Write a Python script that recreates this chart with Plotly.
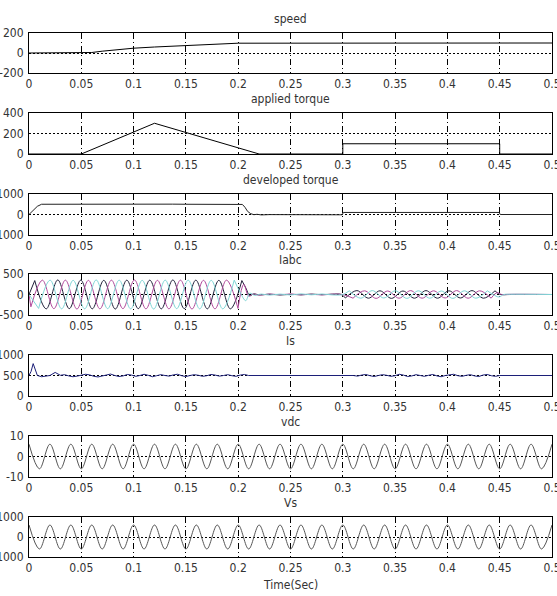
import plotly.graph_objects as go

# ---------------- data ----------------
TITLES = ["speed", "applied torque", "developed torque", "Iabc", "Is", "vdc", "Vs"]
X_LABEL = "Time(Sec)"
X_TICKS = [0, 0.05, 0.1, 0.15, 0.2, 0.25, 0.3, 0.35, 0.4, 0.45, 0.5]
X_TICK_TEXT = ["0", "0.05", "0.1", "0.15", "0.2", "0.25", "0.3", "0.35", "0.4", "0.45", "0.5"]
Y_TICKS = [[-200, 0, 200], [0, 200, 400], [-1000, 0, 1000], [-500, 0, 500],
           [0, 500, 1000], [-10, 0, 10], [-1000, 0, 1000]]
Y_TICK_TEXT = [["-200", "0", "200"], ["0", "200", "400"], ["-1000", "0", "1000"],
               ["-500", "0", "500"], ["0", "500", "1000"], ["-10", "0", "10"],
               ["-1000", "0", "1000"]]

# speed
SP_T = [0, 0.055, 0.06, 0.07, 0.08, 0.09, 0.1, 0.12, 0.15, 0.18, 0.2, 0.5]
SP_V = [0, 0, 5, 18, 30, 40, 48, 60, 75, 88, 98, 100]

# applied torque
AT_T = [0, 0.05, 0.12, 0.22, 0.3, 0.3, 0.45, 0.45, 0.5]
AT_V = [0, 0, 300, 0, 0, 100, 100, 0, 0]

# developed torque
DT_T = [0, 0.003, 0.008, 0.012, 0.03, 0.05, 0.085, 0.1, 0.137, 0.15, 0.18, 0.2, 0.204,
        0.2065, 0.209, 0.212, 0.215, 0.218, 0.222, 0.23, 0.25, 0.27, 0.2995, 0.3005,
        0.33, 0.36, 0.4, 0.43, 0.4495, 0.4505, 0.5]
DT_V = [0, 150, 400, 500, 505, 500, 510, 500, 505, 500, 505, 500, 490, 350, 150, 40,
        -10, 10, -20, -5, -15, -20, -15, 100, 105, 95, 100, 100, 100, 0, 0]

# Iabc : crest / trough values of each phase (half-period spacing)
I_HALF_PERIOD = 0.011
IA_RUN1_T0 = 0.0055
IA_RUN1 = [340, -350, 355, -345, 350, -350, 345, -355, 350, -345, 350, -350, 355, -345,
           350, -350, 345, -350, 340]
IB_RUN1_T0 = 0.0018
IB_RUN1 = [-300, 350, -345, 350, -355, 345, -350, 350, -345, 355, -350, 345, -350, 350,
           -355, 345, -350, 350, -340]
IC_RUN1_T0 = 0.0092
IC_RUN1 = [-340, 350, -350, 345, -350, 355, -345, 350, -350, 345, -355, 350, -345, 350,
           -350, 345, -350, 350]
IA_RUN2_T0 = 0.3025
IA_RUN2 = [-85, 95, -90, 90, -95, 85, -90, 95, -90, 90, -85, 95, -90, 90]
IB_RUN2_T0 = 0.3098
IB_RUN2 = [-90, 90, -95, 85, -90, 95, -90, 90, -85, 95, -90, 90, -90]
IC_RUN2_T0 = 0.3062
IC_RUN2 = [90, -90, 95, -85, 90, -95, 90, -90, 85, -95, 90, -90, 90]
# start-up, decay and quiet parts of each phase
IA_Q_T = [0, 0.0055, None, 0.2035, 0.2075, 0.211, 0.215, 0.22, 0.23, 0.24, 0.25, 0.26,
          0.27, 0.28, 0.29, 0.2985, 0.3025, None, 0.4455, 0.4495, 0.453, 0.46, 0.5]
IA_Q_V = [0, 340, None, 340, 150, -30, 15, -10, 8, -12, 5, -8, 10, -5, 8, 0, -85, None,
          90, 10, -5, 0, 0]
IB_Q_T = [0, 0.0018, None, 0.1998, 0.2053, 0.21, 0.214, 0.22, 0.23, 0.24, 0.25, 0.26,
          0.27, 0.28, 0.29, 0.3, 0.3098, None, 0.4418, 0.4473, 0.452, 0.46, 0.5]
IB_Q_V = [0, -300, None, -340, 250, -40, 10, -15, 10, -5, 12, -8, 5, -10, 8, 0, -90, None,
          -90, 45, 0, 5, 0]
IC_Q_T = [0, 0.0092, None, 0.1962, 0.2017, 0.2072, 0.211, 0.216, 0.222, 0.23, 0.24, 0.25,
          0.26, 0.27, 0.28, 0.29, 0.3, 0.3062, None, 0.4382, 0.4437, 0.4492, 0.454, 0.46, 0.5]
IC_Q_V = [0, -340, None, 350, 60, -150, 30, -20, 10, -15, 10, -12, 15, -8, 12, -10, 0, 90,
          None, 90, 0, -60, 0, 5, 0]

# Is
IS_S_T = [0, 0.002, 0.004, 0.006, 0.008, 0.012, 0.016, 0.02, 0.025, 0.03]
IS_S_V = [500, 600, 790, 640, 500, 470, 480, 500, 575, 505]
IS_STEP = 0.004
IS_N1_T0 = 0.03
IS_N1 = [505, 520, 490, 470, 485, 510, 530, 515, 480, 465, 490, 520, 535, 500, 475, 490,
         525, 510, 480, 500, 530, 505, 470, 495, 520, 500, 485, 515, 530, 495, 475, 500,
         520, 505, 480, 495, 525, 510, 485, 500, 520, 495, 480, 510, 525, 500]
IS_N2_T0 = 0.31
IS_N2 = [500, 485, 510, 525, 495, 475, 500, 520, 505, 480, 495, 530, 510, 475, 490, 520,
         500, 480, 505, 525, 490, 470, 500, 515, 530, 495, 480, 505, 520, 490, 475, 510,
         525, 495, 480, 500]
IS_F_T = [0.21, 0.31, None, 0.45, 0.5]
IS_F_V = [500, 500, None, 500, 500]

# vdc and Vs : crest / trough values every half period (50 Hz)
V_HALF_PERIOD = 0.01
VDC_PEAKS = [6, -6, 6, -6, 6, -6, 6, -6, 6, -6, 6, -6, 6, -6, 6, -6, 6, -6, 6, -6, 6, -6,
             6, -6, 6, -6, 6, -6, 6, -6, 6, -6, 6, -6, 6, -6, 6, -6, 6, -6, 6, -6, 6, -6,
             6, -6, 6, -6, 6, -6, 6]
VS_PEAKS = [600, -600, 600, -600, 600, -600, 600, -600, 600, -600, 600, -600, 600, -600,
            600, -600, 600, -600, 600, -600, 600, -600, 600, -600, 600, -600, 600, -600,
            600, -600, 600, -600, 600, -600, 600, -600, 600, -600, 600, -600, 600, -600,
            600, -600, 600, -600, 600, -600, 600, -600, 600]

# ---------------- layout geometry ----------------
W, H = 557, 596
L, R = 29, 5
TOPS = [33, 113, 194, 274, 355, 436, 517]
BOTS = [73, 154, 235, 315, 396, 477, 557]
FONT = "Liberation Sans Narrow, Arial Narrow, DejaVu Sans Condensed, Liberation Sans, Arial, sans-serif"
TXT = "#333333"
FS = 12

fig = go.Figure()


def ax(i):
    return ("x" if i == 0 else f"x{i+1}"), ("y" if i == 0 else f"y{i+1}")


def add(i, color="black", width=1, spline=False, **kw):
    xa, ya = ax(i)
    line = dict(color=color, width=width)
    if spline:
        line.update(shape="spline", smoothing=1)
    fig.add_trace(go.Scatter(xaxis=xa, yaxis=ya, mode="lines", line=line,
                             showlegend=False, hoverinfo="skip", **kw))


add(0, x=SP_T, y=SP_V)
add(1, x=AT_T, y=AT_V)
add(2, x=DT_T, y=DT_V, color="#222222")

CA, CB, CC = "#20203a", "#b04a9c", "#7fd6d6"
add(3, x=IA_Q_T, y=IA_Q_V, color=CA, spline=True)
add(3, x0=IA_RUN1_T0, dx=I_HALF_PERIOD, y=IA_RUN1, color=CA, spline=True)
add(3, x0=IA_RUN2_T0, dx=I_HALF_PERIOD, y=IA_RUN2, color=CA, spline=True)
add(3, x=IB_Q_T, y=IB_Q_V, color=CB, spline=True)
add(3, x0=IB_RUN1_T0, dx=I_HALF_PERIOD, y=IB_RUN1, color=CB, spline=True)
add(3, x0=IB_RUN2_T0, dx=I_HALF_PERIOD, y=IB_RUN2, color=CB, spline=True)
add(3, x=IC_Q_T, y=IC_Q_V, color=CC, spline=True)
add(3, x0=IC_RUN1_T0, dx=I_HALF_PERIOD, y=IC_RUN1, color=CC, spline=True)
add(3, x0=IC_RUN2_T0, dx=I_HALF_PERIOD, y=IC_RUN2, color=CC, spline=True)

CI = "#1c1f78"
add(4, x=IS_S_T, y=IS_S_V, color=CI)
add(4, x0=IS_N1_T0, dx=IS_STEP, y=IS_N1, color=CI)
add(4, x0=IS_N2_T0, dx=IS_STEP, y=IS_N2, color=CI)
add(4, x=IS_F_T, y=IS_F_V, color=CI)

add(5, x0=0, dx=V_HALF_PERIOD, y=VDC_PEAKS, color="#555555", spline=True)
add(6, x0=0, dx=V_HALF_PERIOD, y=VS_PEAKS, color="#555555", spline=True)

layout = dict(width=W, height=H, margin=dict(l=L, r=R, t=0, b=0),
              paper_bgcolor="white", plot_bgcolor="white",
              font=dict(family=FONT, color=TXT, size=FS), annotations=[])

for i in range(7):
    xa, ya = ax(i)
    yr = Y_TICKS[i]
    d0, d1 = 1 - BOTS[i] / H, 1 - TOPS[i] / H
    layout["xaxis" + xa[1:]] = dict(
        domain=[0, 1], anchor=ya, range=[0, 0.5], tickvals=X_TICKS, ticktext=X_TICK_TEXT,
        showgrid=True, gridcolor="black", gridwidth=1, griddash="6px,3px,1px,3px",
        showline=True, mirror=True, linecolor="black", linewidth=1, zeroline=False,
        ticks="", ticklabelstandoff=0, ticklabeloverflow="allow",
        tickfont=dict(size=FS, color=TXT, family=FONT), automargin=False)
    layout["yaxis" + ya[1:]] = dict(
        domain=[d0, d1], anchor=xa, range=[yr[0], yr[-1]], tickvals=yr,
        ticktext=Y_TICK_TEXT[i], showgrid=True, gridcolor="black", gridwidth=1,
        griddash="2px,2px", showline=True, mirror=True, linecolor="black", linewidth=1,
        zeroline=False, ticks="", ticklabelstandoff=2, ticklabeloverflow="allow",
        tickfont=dict(size=FS, color=TXT, family=FONT), automargin=False)
    layout["annotations"].append(dict(
        text=TITLES[i], xref="paper", yref="paper", x=0.5, y=d1, xanchor="center",
        yanchor="middle", yshift=14, showarrow=False,
        font=dict(size=FS, color=TXT, family=FONT)))

layout["annotations"].append(dict(
    text=X_LABEL, xref="paper", yref="paper", x=0.5, y=1 - 585 / H, xanchor="center",
    yanchor="middle", showarrow=False, font=dict(size=FS, color=TXT, family=FONT)))

fig.update_layout(**layout)
fig.write_html("out.html", config={"displayModeBar": False},
               post_script="document.body.style.margin='0';")
